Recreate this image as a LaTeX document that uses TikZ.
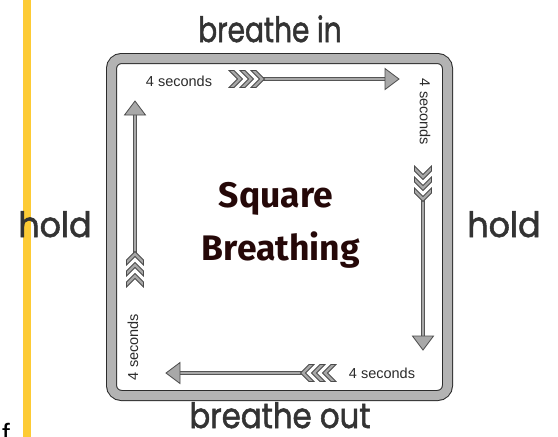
\documentclass[tikz,border=0pt]{standalone}
\usepackage{fontspec}
\setmainfont{Liberation Sans}
\newfontfamily\roundfont[FakeBold=1.6]{Poppins}
\newfontfamily\titlefont{Fira Sans}
\newfontfamily\secfont{Liberation Sans}
\definecolor{barYellow}{HTML}{FDCB35}
\definecolor{frameGray}{HTML}{B3B3B3}
\definecolor{edgeDark}{HTML}{2B2B2B}
\definecolor{arrowGray}{HTML}{A8A8A8}
\definecolor{titleDark}{HTML}{250808}
\definecolor{wordDark}{HTML}{333333}
\tikzset{
  framestyle/.style={draw=edgeDark, line width=1pt, double=frameGray, double distance=9pt},
  shaftout/.style={draw=edgeDark!80, line width=4.6pt},
  shaftin/.style={draw=arrowGray, line width=2.6pt},
  headstyle/.style={draw=edgeDark!85, fill=arrowGray, line width=0.8pt, line join=miter},
  chevstyle/.style={draw=edgeDark!85, fill=arrowGray, line width=0.8pt, line join=miter},
  chev/.pic={\path[chevstyle] (0,-8.5) -- (5,-8.5) -- (13.5,0) -- (5,8.5) -- (0,8.5) -- (8.5,0) -- cycle;},
  secs/.style={font=\secfont\fontsize{14.5}{16}\selectfont, text=edgeDark, inner sep=0pt},
  word/.style={font=\roundfont\fontsize{35}{40}\selectfont, text=wordDark, inner sep=0pt, anchor=base},
  titletext/.style={font=\titlefont\bfseries\fontsize{35.5}{40}\selectfont, text=titleDark, inner sep=0pt, anchor=base}
}
\begin{document}
\begin{tikzpicture}[x=1pt,y=-1pt]
\useasboundingbox (0,0) rectangle (558,437);
\clip (0,0) rectangle (558,437);
\fill[white] (0,0) rectangle (558,437);
% yellow bar
\fill[barYellow] (23,0) rectangle (31,437);
% frame
\draw[framestyle, rounded corners=10pt] (111.5,58.5) rectangle (447.5,395.5);
% labels outside
\node[word] (bin) at (270,42) {\scalebox{0.8}[1]{breathe in}};
\node[word] (bout) at (280,428) {\scalebox{0.88}[1]{breathe out}};
\node[word] (holdL) at (55,237) {\scalebox{0.95}[1]{hold}};
\node[word] (holdR) at (504,237) {\scalebox{0.95}[1]{hold}};
\node[inner sep=0pt, anchor=base west, font=\fontsize{28}{30}\selectfont] (ff) at (2,443) {f};
% title
\node[titletext] (t1) at (276,207) {Square};
\node[titletext] (t2) at (281,260) {Breathing};
% coordinates
\coordinate (tA) at (262,79);  \coordinate (tB) at (386,79);  \coordinate (tH) at (399,79);
\coordinate (rA) at (423,198); \coordinate (rB) at (423,336); \coordinate (rH) at (423,350);
\coordinate (bA) at (303,373); \coordinate (bB) at (180,373); \coordinate (bH) at (166,373);
\coordinate (lA) at (135,254); \coordinate (lB) at (135,115); \coordinate (lH) at (135,101);
% shafts
\foreach \a/\b in {tA/tB, rA/rB, bA/bB, lA/lB}{
  \draw[shaftout] (\a) -- (\b);
  \draw[shaftin] (\a) -- (\b);
}
% heads
\path[headstyle] (tH) -- ++(-14,-10.5) -- ++(0,21) -- cycle;
\path[headstyle] (rH) -- ++(-10.5,-14) -- ++(21,0) -- cycle;
\path[headstyle] (bH) -- ++(14,-10.5) -- ++(0,21) -- cycle;
\path[headstyle] (lH) -- ++(-10.5,14) -- ++(21,0) -- cycle;
% chevrons
\foreach \x in {229,240,251}{\pic at (\x,79) {chev};}
\foreach \y in {166,177,188}{\pic[rotate=-90] at (423,\y) {chev};}
\foreach \x in {336,325,314}{\pic[rotate=180] at (\x,373) {chev};}
\foreach \y in {287,276,265}{\pic[rotate=90] at (135,\y) {chev};}
% 4 seconds labels
\node[secs] (s1) at (179,81) {4 seconds};
\node[secs, rotate=-90] (s2) at (425,112) {4 seconds};
\node[secs] (s3) at (382,373) {4 seconds};
\node[secs, rotate=90] (s4) at (133,347) {4 seconds};
\end{tikzpicture}
\end{document}
